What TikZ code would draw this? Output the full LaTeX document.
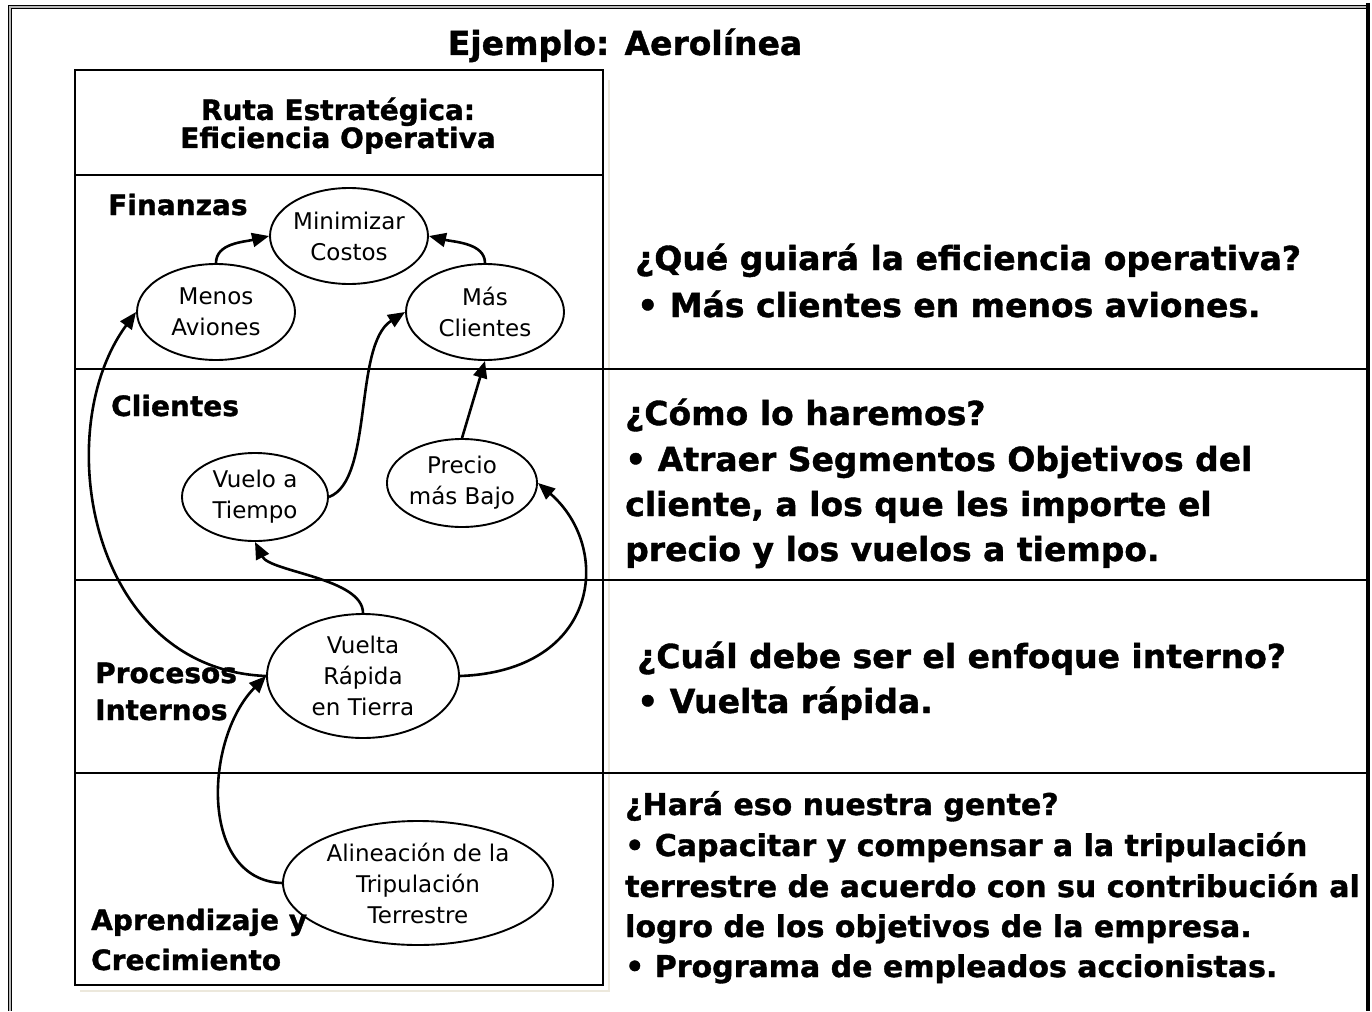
\documentclass[tikz,border=0pt]{standalone}
\usepackage{fontspec}
\setmainfont{DejaVu Sans}[BoldFeatures={FakeBold=1.2}]
\usetikzlibrary{shapes}
\usetikzlibrary{arrows.meta}
\definecolor{boxshadow}{RGB}{236,232,220}
\tikzset{goal/.style={ellipse, draw, line width=1.9pt, inner sep=0pt, align=center, font=\fontsize{23}{31}\selectfont}}
\tikzset{lane/.style={anchor=base west, inner sep=0pt, font=\bfseries\fontsize{28}{34}\selectfont}}
\tikzset{ask/.style={anchor=base west, inner sep=0pt, font=\bfseries\fontsize{33}{40}\selectfont}}
\tikzset{asksmall/.style={anchor=base west, inner sep=0pt, font=\bfseries\fontsize{30}{36}\selectfont}}
\tikzset{link/.style={line width=2.6pt, -{Triangle[length=17pt,width=14pt]}}}

\begin{document}
\begin{tikzpicture}[x=1pt,y=-1pt]
  \useasboundingbox (0,0) rectangle (1372,1011);
  \draw[line width=1.4pt, double=gray!55, double distance=2pt] (10,1011) -- (10,7) -- (1368,7);
  \node[anchor=base, inner sep=0pt, font=\bfseries\fontsize{33}{40}\selectfont] (title) at (625,55) {Ejemplo: Aerolínea};

  \draw[draw=boxshadow, line width=2pt] (609,80) -- (609,991) -- (80,991);
  \draw[line width=2.5pt] (75,70) rectangle (603,985);
  \draw[line width=2pt] (75,175) -- (603,175);
  \foreach \y in {369,580,773} {
    \draw[line width=2pt] (75,\y) -- (1368,\y);
  }

  \node[lane, anchor=base] (ruta) at (338,120) {Ruta Estratégica:};
  \node[lane, anchor=base] (efic) at (338,148) {Eficiencia Operativa};
  \foreach \name/\x/\y/\txt in {
    fin/108/215/Finanzas,
    cli/111/416/Clientes,
    proA/95/683/Procesos,
    proB/95/720/Internos,
    aprA/91/930/Aprendizaje y,
    aprB/91/970/Crecimiento%
  } {
    \node[lane] (\name) at (\x,\y) {\txt};
  }

  \foreach \name/\x/\y/\w/\h/\txt in {
    cost/349/236/158/96/{Minimizar\\Costos},
    menos/216/312/158/96/{Menos\\Aviones},
    mas/485/312/158/96/{Más\\Clientes},
    vuelo/255/497/146/88/{Vuelo a\\Tiempo},
    precio/462/483/144/88/{Precio\\más Bajo},
    vuelta/363/676/192/124/{Vuelta\\Rápida\\en Tierra},
    alin/418/883/270/124/{Alineación de la\\Tripulación\\Terrestre}%
  } {
    \node[goal, minimum width=\w pt, minimum height=\h pt] (\name) at (\x,\y) {\txt};
  }

  \draw[link] (menos.north) .. controls +(0,-20) and +(-25,6) .. (cost.west);
  \draw[link] (mas.north) .. controls +(0,-20) and +(25,6) .. (cost.east);
  \draw[link] (vuelta.west) .. controls +(-177,-7) and +(-87,118) .. (menos.west);
  \draw[link] (vuelta.north) .. controls +(0,-35) and +(15,30) .. (vuelo.south);
  \draw[link] (vuelta.east) .. controls +(140,-5) and +(75,65) .. (precio.east);
  \draw[link] (vuelo.east) .. controls +(45,-17) and +(-52,33) .. (mas.west);
  \draw[link] (precio.north) -- (mas.south);
  \draw[link] (alin.west) .. controls +(-83,-3) and +(-62,63) .. (vuelta.west);

  \foreach \x/\y/\txt [count=\i] in {
    635/270/{¿Qué guiará la eficiencia operativa?},
    637/317/{• Más clientes en menos aviones.},
    625/425/{¿Cómo lo haremos?},
    625/471/{• Atraer Segmentos Objetivos del},
    625/516/{cliente, a los que les importe el},
    625/561/{precio y los vuelos a tiempo.},
    637/668/{¿Cuál debe ser el enfoque interno?},
    637/713/{• Vuelta rápida.}%
  } {
    \node[ask] (ask\i) at (\x,\y) {\txt};
  }
  \foreach \x/\y/\txt [count=\i] in {
    625/815/{¿Hará eso nuestra gente?},
    625/856/{• Capacitar y compensar a la tripulación},
    625/897/{terrestre de acuerdo con su contribución al},
    625/937/{logro de los objetivos de la empresa.},
    625/977/{• Programa de empleados accionistas.}%
  } {
    \node[asksmall] (hint\i) at (\x,\y) {\txt};
  }

  \draw[line width=3.5pt] (1368,3) -- (1368,1011);
\end{tikzpicture}
\end{document}
